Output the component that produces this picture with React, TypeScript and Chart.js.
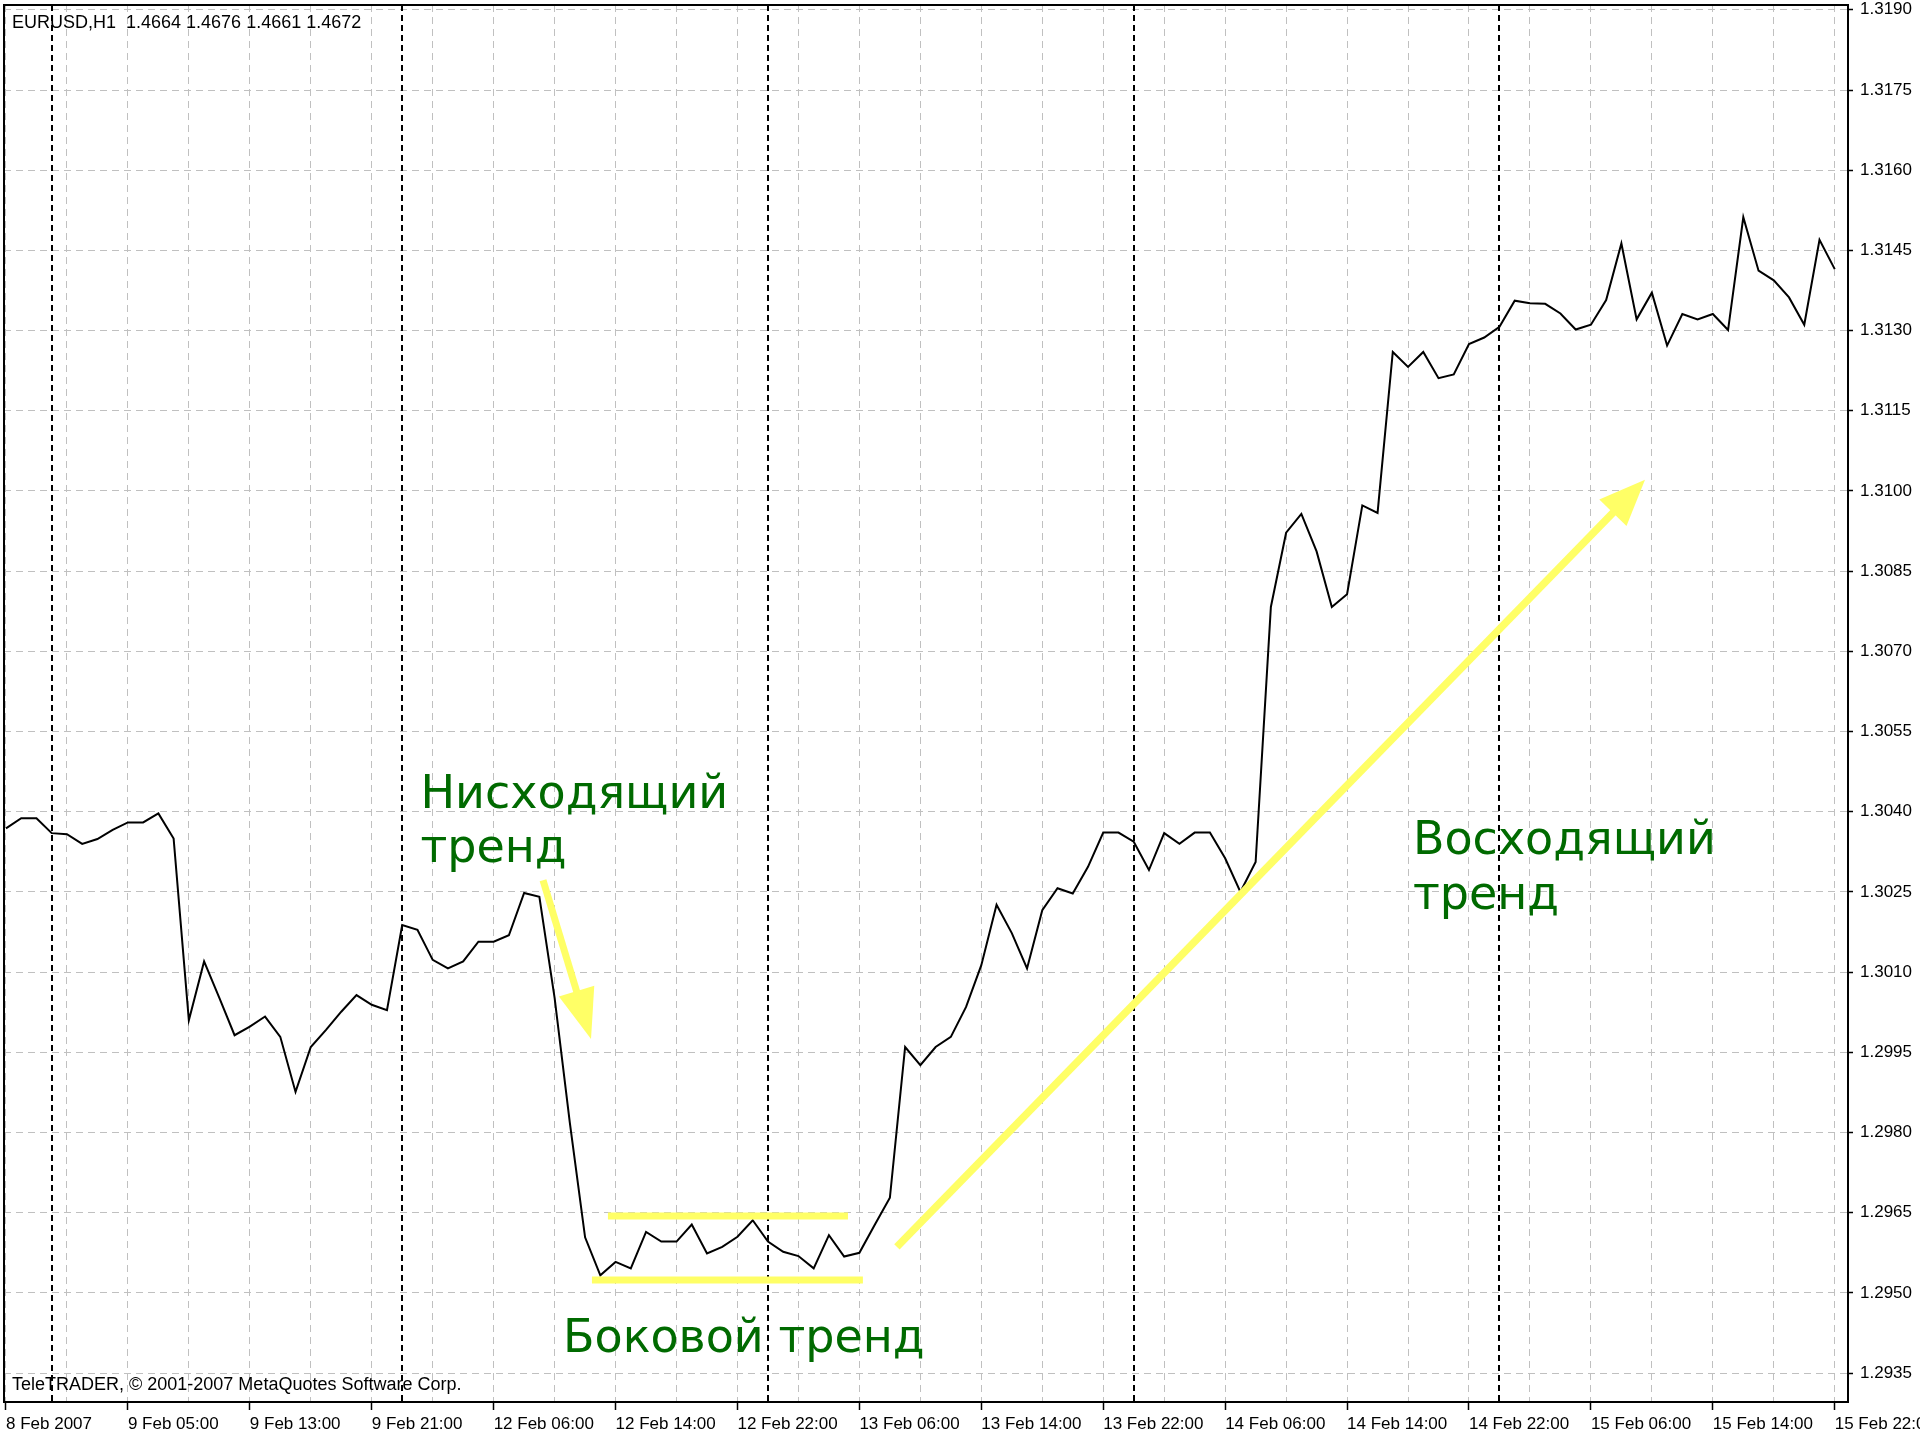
import React, { useEffect, useRef } from 'react';
import { Chart, registerables } from 'chart.js';

Chart.register(...registerables);

// ---- Data -------------------------------------------------------------
const X_LABELS = [
  '8 Feb 2007', '9 Feb 05:00', '9 Feb 13:00', '9 Feb 21:00', '12 Feb 06:00',
  '12 Feb 14:00', '12 Feb 22:00', '13 Feb 06:00', '13 Feb 14:00', '13 Feb 22:00',
  '14 Feb 06:00', '14 Feb 14:00', '14 Feb 22:00', '15 Feb 06:00', '15 Feb 14:00',
  '15 Feb 22:00',
];
const BARS_PER_LABEL = 8;
const BARS_PER_GRID = 4;
const DAY_SEPARATORS = [3, 26, 50, 74, 98];

const Y_TICKS = [
  1.2935, 1.295, 1.2965, 1.298, 1.2995, 1.301, 1.3025, 1.304, 1.3055,
  1.307, 1.3085, 1.31, 1.3115, 1.313, 1.3145, 1.316, 1.3175, 1.319,
];

const PRICES = [
  1.30369, 1.30388, 1.30388, 1.30360, 1.30358, 1.30340, 1.30349, 1.30366, 1.30380, 1.30380,
  1.30397, 1.30350, 1.30010, 1.30120, 1.30052, 1.29982, 1.29998, 1.30017, 1.29979, 1.29876,
  1.29960, 1.29992, 1.30026, 1.30057, 1.30039, 1.30029, 1.30188, 1.30179, 1.30123, 1.30107,
  1.30120, 1.30157, 1.30157, 1.30169, 1.30248, 1.30241, 1.30052, 1.29818, 1.29604, 1.29533,
  1.29558, 1.29546, 1.29614, 1.29596, 1.29596, 1.29628, 1.29574, 1.29586, 1.29605, 1.29636,
  1.29596, 1.29577, 1.29569, 1.29546, 1.29608, 1.29568, 1.29575, 1.29627, 1.29678, 1.29960,
  1.29926, 1.29960, 1.29979, 1.30035, 1.30113, 1.30226, 1.30173, 1.30107, 1.30216, 1.30257,
  1.30247, 1.30297, 1.30361, 1.30361, 1.30344, 1.30291, 1.30360, 1.30340, 1.30361, 1.30361,
  1.30313, 1.30250, 1.30306, 1.30783, 1.30922, 1.30957, 1.30887, 1.30783, 1.30807, 1.30973,
  1.30959, 1.31260, 1.31232, 1.31260, 1.31211, 1.31218, 1.31275, 1.31287, 1.31307, 1.31356,
  1.31351, 1.31350, 1.31332, 1.31302, 1.31311, 1.31357, 1.31463, 1.31321, 1.31371, 1.31272,
  1.31331, 1.31321, 1.31331, 1.31301, 1.31512, 1.31412, 1.31394, 1.31362, 1.31311, 1.31470,
  1.31415,
];

const X_MIN = -0.13;
const X_MAX = 120.87;
const Y_MIN = 1.29296;
const Y_MAX = 1.31909;

const HEADER_TEXT = 'EURUSD,H1  1.4664 1.4676 1.4661 1.4672';
const FOOTER_TEXT = 'TeleTRADER, \u00A9 2001-2007 MetaQuotes Software Corp.';

// annotations in data coordinates: [bar index, price]
const DOWN_ARROW = [[35.24, 1.30272], [38.39, 1.29975]];
const UP_ARROW = [[58.46, 1.29586], [107.55, 1.31021]];
const RANGE_TOP = [[39.5, 1.29644], [55.25, 1.29644]];
const RANGE_BOTTOM = [[38.45, 1.29524], [56.23, 1.29524]];
const TREND_TEXTS: [string, number, number][] = [
  ['Нисходящий', 27.2, 1.30407],
  ['тренд', 27.2, 1.30306],
  ['Боковой тренд', 36.55, 1.29389],
  ['Восходящий', 92.32, 1.30321],
  ['тренд', 92.32, 1.30218],
];

// ---- Styles -------------------------------------------------------------
const AXIS_FONT = "'Liberation Sans', Arial, sans-serif";
const GRID_COLOR = '#c0c0c0';
const YELLOW = '#ffff66';
const GREEN = '#006a00';

function drawArrow(ctx: CanvasRenderingContext2D, x1: number, y1: number, x2: number, y2: number,
  width: number, headLen: number, headHalf: number) {
  const dx = x2 - x1;
  const dy = y2 - y1;
  const len = Math.hypot(dx, dy);
  const ux = dx / len;
  const uy = dy / len;
  const bx = x2 - ux * headLen;
  const by = y2 - uy * headLen;
  ctx.lineWidth = width;
  ctx.lineCap = 'butt';
  ctx.beginPath();
  ctx.moveTo(x1, y1);
  ctx.lineTo(bx + ux * 2, by + uy * 2);
  ctx.stroke();
  ctx.beginPath();
  ctx.moveTo(x2, y2);
  ctx.lineTo(bx - uy * headHalf, by + ux * headHalf);
  ctx.lineTo(bx + uy * headHalf, by - ux * headHalf);
  ctx.closePath();
  ctx.fill();
}

const overlayPlugin = {
  id: 'mtOverlay',
  beforeDatasetsDraw(chart: any) {
    const { ctx, chartArea: a, scales } = chart;
    const x = scales.x;
    ctx.save();
    ctx.beginPath();
    ctx.rect(a.left, a.top, a.right - a.left, a.bottom - a.top);
    ctx.clip();
    ctx.strokeStyle = '#000';
    ctx.lineWidth = 2;
    ctx.setLineDash([6, 4]);
    DAY_SEPARATORS.forEach((d) => {
      const px = Math.round(x.getPixelForValue(d));
      ctx.beginPath();
      ctx.moveTo(px, a.top);
      ctx.lineTo(px, a.bottom);
      ctx.stroke();
    });
    ctx.restore();
  },
  afterDatasetsDraw(chart: any) {
    const { ctx, chartArea: a, scales } = chart;
    const x = scales.x;
    const y = scales.y;
    const P = (p: number[]) => [x.getPixelForValue(p[0]), y.getPixelForValue(p[1])];
    ctx.save();
    ctx.strokeStyle = YELLOW;
    ctx.fillStyle = YELLOW;
    ctx.setLineDash([]);
    // sideways range lines
    [RANGE_TOP, RANGE_BOTTOM].forEach((seg) => {
      const [ax, ay] = P(seg[0]);
      const [bx, by] = P(seg[1]);
      ctx.lineWidth = 7;
      ctx.lineCap = 'butt';
      ctx.beginPath();
      ctx.moveTo(ax, ay);
      ctx.lineTo(bx, by);
      ctx.stroke();
    });
    {
      const [ax, ay] = P(DOWN_ARROW[0]);
      const [bx, by] = P(DOWN_ARROW[1]);
      drawArrow(ctx, ax, ay, bx, by, 7, 50, 18.5);
    }
    {
      const [ax, ay] = P(UP_ARROW[0]);
      const [bx, by] = P(UP_ARROW[1]);
      drawArrow(ctx, ax, ay, bx, by, 7.5, 46, 19);
    }
    // trend captions
    ctx.fillStyle = GREEN;
    ctx.font = "46px 'DejaVu Sans', Verdana, sans-serif";
    ctx.textAlign = 'left';
    ctx.textBaseline = 'alphabetic';
    TREND_TEXTS.forEach(([t, vx, vy]) => {
      ctx.fillText(t, x.getPixelForValue(vx), y.getPixelForValue(vy));
    });
    // header / footer
    ctx.fillStyle = '#000';
    ctx.font = `18px ${AXIS_FONT}`;
    ctx.textBaseline = 'middle';
    ctx.fillText(HEADER_TEXT, a.left + 8, a.top + 18);
    ctx.fillText(FOOTER_TEXT, a.left + 8, a.bottom - 17);
    ctx.restore();
  },
  afterDraw(chart: any) {
    const { ctx, chartArea: a } = chart;
    ctx.save();
    ctx.strokeStyle = '#000';
    ctx.lineWidth = 2;
    ctx.setLineDash([]);
    ctx.strokeRect(a.left, a.top, a.right - a.left, a.bottom - a.top);
    ctx.restore();
  },
};

export default function App() {
  const canvasRef = useRef<HTMLCanvasElement | null>(null);

  useEffect(() => {
    const canvas = canvasRef.current;
    if (!canvas) return;
    const lastBar = (X_LABELS.length - 1) * BARS_PER_LABEL;
    const gridTicks: { value: number }[] = [];
    for (let v = 0; v <= lastBar; v += BARS_PER_GRID) gridTicks.push({ value: v });

    const chart = new Chart(canvas, {
      type: 'line',
      data: {
        datasets: [
          {
            data: PRICES.map((p, i) => ({ x: i, y: p })),
            borderColor: '#000',
            borderWidth: 2,
            pointRadius: 0,
            tension: 0,
            fill: false,
          },
        ],
      },
      options: {
        animation: false,
        responsive: false,
        devicePixelRatio: 1,
        layout: { padding: { left: 4, top: 5, right: 0, bottom: 0 } },
        plugins: {
          legend: { display: false },
          tooltip: { enabled: false },
          title: { display: false },
        },
        scales: {
          x: {
            type: 'linear',
            position: 'bottom',
            min: X_MIN,
            max: X_MAX,
            afterBuildTicks: (scale: any) => {
              scale.ticks = gridTicks.map((t) => ({ value: t.value }));
            },
            afterFit: (scale: any) => {
              scale.height = 38;
              scale.paddingLeft = 0;
              scale.paddingRight = 0;
            },
            grid: {
              color: GRID_COLOR,
              lineWidth: 1,
              drawTicks: true,
              tickLength: 8,
              tickWidth: 1.5,
              tickBorderDash: [],
              tickColor: (ctx: any) =>
                ctx.tick && ctx.tick.value % BARS_PER_LABEL === 0 ? '#000' : 'rgba(0,0,0,0)',
            },
            border: { display: true, color: '#000', width: 2, dash: [7, 5] },
            ticks: {
              autoSkip: false,
              maxRotation: 0,
              minRotation: 0,
              align: 'start',
              padding: 4,
              color: '#000',
              font: { family: AXIS_FONT, size: 17 },
              callback: (value: any) => {
                const v = Number(value);
                return v % BARS_PER_LABEL === 0 ? X_LABELS[v / BARS_PER_LABEL] : '';
              },
            },
          },
          y: {
            type: 'linear',
            position: 'right',
            min: Y_MIN,
            max: Y_MAX,
            afterBuildTicks: (scale: any) => {
              scale.ticks = Y_TICKS.map((v) => ({ value: v }));
            },
            afterFit: (scale: any) => {
              scale.width = 72;
              scale.paddingTop = 0;
              scale.paddingBottom = 0;
            },
            grid: {
              color: GRID_COLOR,
              lineWidth: 1,
              drawTicks: true,
              tickLength: 5,
              tickWidth: 1.5,
              tickBorderDash: [],
              tickColor: '#000',
            },
            border: { display: true, color: '#000', width: 2, dash: [7, 5] },
            ticks: {
              autoSkip: false,
              padding: 7,
              color: '#000',
              font: { family: AXIS_FONT, size: 17 },
              callback: (value: any) => Number(value).toFixed(4),
            },
          },
        },
      } as any,
      plugins: [overlayPlugin],
    });

    return () => chart.destroy();
  }, []);

  return (
    <div style={{ position: 'absolute', left: 0, top: 0, width: 1920, height: 1440, background: '#fff', overflow: 'hidden' }}>
      <canvas ref={canvasRef} width={1920} height={1440} style={{ display: 'block', width: 1920, height: 1440 }} />
    </div>
  );
}
